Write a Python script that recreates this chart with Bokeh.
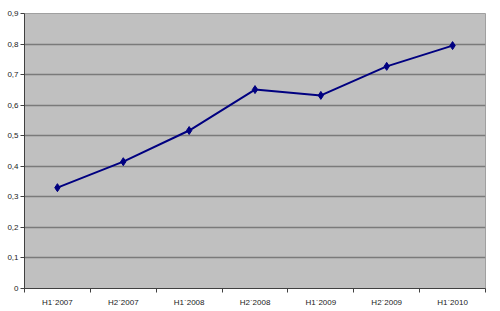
from bokeh.plotting import figure
from bokeh.models import FixedTicker, Range1d, ColumnDataSource
from bokeh.embed import file_html
from bokeh.resources import INLINE

categories = ["H1`2007", "H2`2007", "H1`2008", "H2`2008", "H1`2009", "H2`2009", "H1`2010"]
values = [0.33, 0.415, 0.517, 0.651, 0.632, 0.727, 0.795]
y_ticks = [0, 0.1, 0.2, 0.3, 0.4, 0.5, 0.6, 0.7, 0.8, 0.9]
y_labels = ["0", "0,1", "0,2", "0,3", "0,4", "0,5", "0,6", "0,7", "0,8", "0,9"]

xs = [i + 0.5 for i in range(len(categories))]
src = ColumnDataSource(dict(x=xs, y=values))

p = figure(width=500, height=311, output_backend="svg", toolbar_location=None,
           x_range=Range1d(0, len(categories)), y_range=Range1d(0, 0.9),
           min_border_left=24, min_border_right=15, min_border_top=13, min_border_bottom=23)
p.background_fill_color = "#C0C0C0"
p.border_fill_color = "white"
p.outline_line_color = "#A0A0A0"
p.outline_line_width = 1

p.xgrid.visible = False
p.ygrid.grid_line_color = "#7A7A7A"
p.ygrid.grid_line_width = 1.5
p.ygrid.ticker = FixedTicker(ticks=y_ticks)

p.yaxis.ticker = FixedTicker(ticks=y_ticks)
p.yaxis.major_label_overrides = {t: l for t, l in zip(y_ticks, y_labels)}
p.yaxis.minor_tick_line_color = None
p.yaxis.major_tick_out = 4
p.yaxis.major_tick_in = 0
p.yaxis.major_label_standoff = 2

p.xaxis.ticker = FixedTicker(ticks=xs, minor_ticks=list(range(len(categories) + 1)))
p.xaxis.major_label_overrides = {x: c for x, c in zip(xs, categories)}
p.xaxis.major_tick_out = 0
p.xaxis.major_tick_in = 0
p.xaxis.minor_tick_out = 4
p.xaxis.minor_tick_in = 0
p.xaxis.major_label_standoff = 5

for ax in (p.xaxis[0], p.yaxis[0]):
    ax.axis_line_color = "#404040"
    ax.major_tick_line_color = "#404040"
    ax.minor_tick_line_color = "#404040"
    ax.major_label_text_font = "Liberation Sans"
    ax.major_label_text_font_size = "8px"
    ax.major_label_text_color = "#222222"

p.line("x", "y", source=src, line_color="#000080", line_width=2)
p.scatter("x", "y", source=src, marker="diamond", size=8, fill_color="#000080", line_color="#000080")

open("out.html", "w").write(file_html(p, INLINE))
